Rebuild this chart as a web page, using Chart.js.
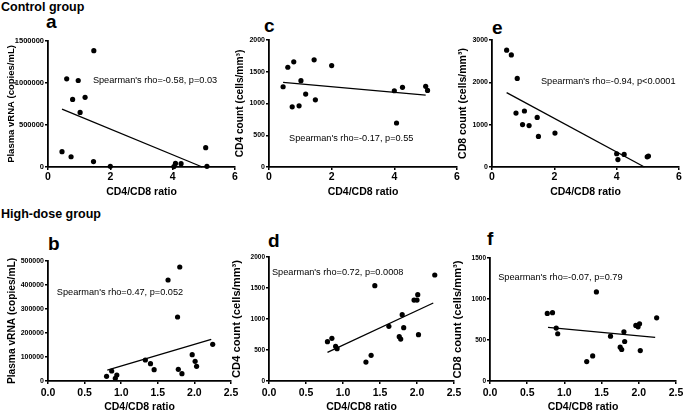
<!DOCTYPE html>
<html>
<head>
<meta charset="utf-8">
<script src="https://cdn.jsdelivr.net/npm/chart.js@4.4.1/dist/chart.umd.min.js"></script>
<style>
  body { margin: 0; background: #fff; }
  #fig { position: relative; width: 685px; height: 414px; overflow: hidden; font-family: "Liberation Sans", Arial, sans-serif; }
  #fig canvas { position: absolute; }
  .lbl { position: absolute; font-weight: bold; color: #000; line-height: 1; white-space: nowrap; }
</style>
</head>
<body>
<div id="fig">
  <div class="lbl" style="left:1px;top:1px;font-size:12.5px">Control group</div>
  <div class="lbl" style="left:1px;top:208px;font-size:12.5px">High-dose group</div>
  <div class="lbl" style="left:46px;top:12px;font-size:19px">a</div>
  <div class="lbl" style="left:264px;top:16px;font-size:19px">c</div>
  <div class="lbl" style="left:492px;top:18px;font-size:19px">e</div>
  <div class="lbl" style="left:48px;top:234px;font-size:19px">b</div>
  <div class="lbl" style="left:268px;top:231px;font-size:19px">d</div>
  <div class="lbl" style="left:487px;top:229px;font-size:19px">f</div>
  <canvas id="cA"></canvas>
  <canvas id="cC"></canvas>
  <canvas id="cE"></canvas>
  <canvas id="cB"></canvas>
  <canvas id="cD"></canvas>
  <canvas id="cF"></canvas>
</div>
<script>
// control group
const ratioA = [0.45, 0.60, 0.74, 0.79, 0.97, 1.03, 1.19, 1.47, 1.46, 2.00, 4.04, 4.09, 4.27, 5.06, 5.10];
const vrnaA = [182000, 1050000, 122000, 805000, 1030000, 650000, 830000, 1385000, 64000, 8000, 5000, 42000, 40000, 230000, 8000];
const ratioC = [0.45, 0.60, 0.79, 0.74, 0.96, 1.02, 1.17, 1.44, 1.48, 2.00, 4.00, 4.07, 4.26, 5.00, 5.06];
const cd4C = [1264, 1571, 1656, 947, 963, 1360, 1148, 1688, 1058, 1598, 1201, 693, 1254, 1270, 1206];
const ratioE = [0.47, 0.62, 0.81, 0.77, 1.04, 0.98, 1.19, 1.45, 1.49, 2.02, 4.00, 4.04, 4.24, 4.98, 5.02];
const cd8E = [2759, 2647, 2093, 1275, 1323, 1002, 978, 1171, 722, 802, 313, 176, 297, 241, 257];

// high-dose group
const ratioB = [0.80, 0.87, 0.92, 0.94, 1.33, 1.40, 1.45, 1.64, 1.77, 1.80, 1.78, 1.83, 1.97, 2.01, 2.03, 2.25];
const vrnaB = [19400, 41700, 11000, 25000, 87500, 72200, 47200, 420800, 266700, 475000, 48600, 30600, 109700, 81900, 61100, 152800];
const ratioD = [0.79, 0.85, 0.90, 0.92, 1.31, 1.38, 1.43, 1.62, 1.76, 1.78, 1.80, 1.82, 1.96, 2.00, 2.01, 2.02, 2.24];
const cd4D = [634, 688, 559, 522, 306, 414, 1538, 882, 715, 677, 1070, 860, 1306, 1306, 1392, 747, 1710];
const ratioF = [0.77, 0.84, 0.89, 0.91, 1.30, 1.38, 1.43, 1.62, 1.75, 1.77, 1.80, 1.81, 1.96, 1.99, 2.01, 2.02, 2.24];
const cd8F = [824, 833, 645, 576, 237, 306, 1086, 547, 412, 384, 600, 482, 678, 661, 698, 371, 771];

// fitted lines, end points
const fitA = { x: [0.45, 4.95], y: [690000, 0] };
const fitC = { x: [0.45, 5.0], y: [1333, 1132] };
const fitE = { x: [0.47, 4.89], y: [1756, 0] };
const fitB = { x: [0.81, 2.23], y: [45800, 173600] };
const fitD = { x: [0.79, 2.22], y: [462, 1258] };
const fitF = { x: [0.78, 2.22], y: [653, 531] };

const ticksTop = [0, 2, 4, 6];
const ticksBottom = [0, 0.5, 1, 1.5, 2, 2.5];

const notePlugin = {
  id: 'note',
  afterDatasetsDraw(chart, args, o) {
    const { ctx, scales } = chart;
    ctx.save();
    ctx.font = '9.2px "Liberation Sans", Arial, sans-serif';
    ctx.fillStyle = '#000';
    ctx.textAlign = 'left';
    ctx.textBaseline = 'middle';
    ctx.fillText(o.text, scales.x.getPixelForValue(o.x), scales.y.getPixelForValue(o.y));
    ctx.restore();
  }
};

const FONT = '"Liberation Sans", Arial, sans-serif';
const W = 48, H = 34, T = 10, R = 12;

function panel(id, p) {
  const cv = document.getElementById(id);
  const w = W + (p.box[1] - p.box[0]) + R;
  const h = T + (p.box[3] - p.box[2]) + H;
  cv.width = w; cv.height = h;
  cv.style.width = w + 'px'; cv.style.height = h + 'px';
  cv.style.left = (p.box[0] - W) + 'px';
  cv.style.top = (p.box[2] - T) + 'px';

  const axisGrid = { display: true, drawOnChartArea: false, drawTicks: true, tickLength: 3, color: '#000', lineWidth: 1.5 };
  const axisBorder = { display: true, color: '#000', width: 1.8 };

  new Chart(cv, {
    type: 'scatter',
    data: {
      datasets: [
        {
          data: p.xs.map((x, i) => ({ x: x, y: p.ys[i] })),
          pointRadius: 2.6, pointBackgroundColor: '#000', pointBorderWidth: 0,
          showLine: false, clip: false
        },
        {
          data: p.fit.x.map((x, i) => ({ x: x, y: p.fit.y[i] })),
          showLine: true, borderColor: '#000', borderWidth: 1.3, pointRadius: 0, clip: false
        }
      ]
    },
    options: {
      responsive: false,
      animation: false,
      events: [],
      layout: { padding: { top: T, right: R, left: 0, bottom: 0 } },
      plugins: { legend: { display: false }, tooltip: { enabled: false }, note: p.note },
      scales: {
        x: {
          type: 'linear', min: 0, max: p.xTicks[p.xTicks.length - 1],
          afterFit(s) { s.height = H; },
          afterBuildTicks(s) { s.ticks = p.xTicks.map(v => ({ value: v })); },
          ticks: {
            color: '#000', padding: p.xPad, autoSkip: false, maxRotation: 0,
            font: { family: FONT, size: p.xTickSize, weight: 'bold' },
            callback: v => p.xFmt(v)
          },
          grid: axisGrid, border: axisBorder,
          title: { display: true, text: 'CD4/CD8 ratio', color: '#000',
                   font: { family: FONT, size: 10.5, weight: 'bold' }, padding: { top: 0, bottom: p.xTitlePad } }
        },
        y: {
          type: 'linear', min: 0, max: p.yTicks[p.yTicks.length - 1],
          afterFit(s) { s.width = W; },
          afterBuildTicks(s) { s.ticks = p.yTicks.map(v => ({ value: v })); },
          ticks: {
            color: '#000', padding: 1, autoSkip: false,
            font: { family: FONT, size: p.yTickSize, weight: 'bold' },
            callback: v => String(v)
          },
          grid: axisGrid, border: axisBorder,
          title: { display: true, text: p.yTitle, color: '#000',
                   font: { family: FONT, size: p.yTitleSize, weight: 'bold' }, padding: { top: p.yTitlePad, bottom: 0 } }
        }
      }
    },
    plugins: [notePlugin]
  });
}

const fmtInt = v => String(v);
const fmt1 = v => v.toFixed(1);

panel('cA', {
  box: [48, 235, 41, 167], xs: ratioA, ys: vrnaA, fit: fitA,
  xTicks: ticksTop, yTicks: [0, 500000, 1000000, 1500000], xFmt: fmtInt,
  xTickSize: 10.5, yTickSize: 7.5, xPad: 1, xTitlePad: 2.5,
  yTitle: 'Plasma vRNA (copies/mL)', yTitleSize: 9.5, yTitlePad: 6,
  note: { text: "Spearman's rho=-0.58, p=0.03", x: 1.44, y: 1036000 }
});
panel('cC', {
  box: [269, 457, 40, 167], xs: ratioC, ys: cd4C, fit: fitC,
  xTicks: ticksTop, yTicks: [0, 500, 1000, 1500, 2000], xFmt: fmtInt,
  xTickSize: 10.5, yTickSize: 7, xPad: 1, xTitlePad: 2.5,
  yTitle: 'CD4 count (cells/mm\u00B3)', yTitleSize: 10.2, yTitlePad: 13,
  note: { text: "Spearman's rho=-0.17, p=0.55", x: 0.64, y: 457 }
});
panel('cE', {
  box: [492, 679, 40, 167], xs: ratioE, ys: cd8E, fit: fitE,
  xTicks: ticksTop, yTicks: [0, 1000, 2000, 3000], xFmt: fmtInt,
  xTickSize: 10.5, yTickSize: 7, xPad: 1, xTitlePad: 2.5,
  yTitle: 'CD8 count (cells/mm\u00B3)', yTitleSize: 10.5, yTitlePad: 13,
  note: { text: "Spearman's rho=-0.94, p<0.0001", x: 1.57, y: 2031 }
});
panel('cB', {
  box: [48, 231, 261, 381], xs: ratioB, ys: vrnaB, fit: fitB,
  xTicks: ticksBottom, yTicks: [0, 100000, 200000, 300000, 400000, 500000], xFmt: fmt1,
  xTickSize: 10.5, yTickSize: 7, xPad: 3, xTitlePad: 1.5,
  yTitle: 'Plasma vRNA (copies/mL)', yTitleSize: 10.2, yTitlePad: 6,
  note: { text: "Spearman's rho=0.47, p=0.052", x: 0.12, y: 370800 }
});
panel('cD', {
  box: [269, 454, 257, 381], xs: ratioD, ys: cd4D, fit: fitD,
  xTicks: ticksBottom, yTicks: [0, 500, 1000, 1500, 2000], xFmt: fmt1,
  xTickSize: 10.5, yTickSize: 6.5, xPad: 3, xTitlePad: 1.5,
  yTitle: 'CD4 count (cells/mm\u00B3)', yTitleSize: 11.2, yTitlePad: 9.5,
  note: { text: "Spearman's rho=0.72, p=0.0008", x: 0.04, y: 1758 }
});
panel('cF', {
  box: [490, 676, 258, 381], xs: ratioF, ys: cd8F, fit: fitF,
  xTicks: ticksBottom, yTicks: [0, 500, 1000, 1500], xFmt: fmt1,
  xTickSize: 10.5, yTickSize: 6.5, xPad: 3, xTitlePad: 1.5,
  yTitle: 'CD8 count (cells/mm\u00B3)', yTitleSize: 11.2, yTitlePad: 9.5,
  note: { text: "Spearman's rho=-0.07, p=0.79", x: 0.11, y: 1268 }
});
</script>
</body>
</html>
